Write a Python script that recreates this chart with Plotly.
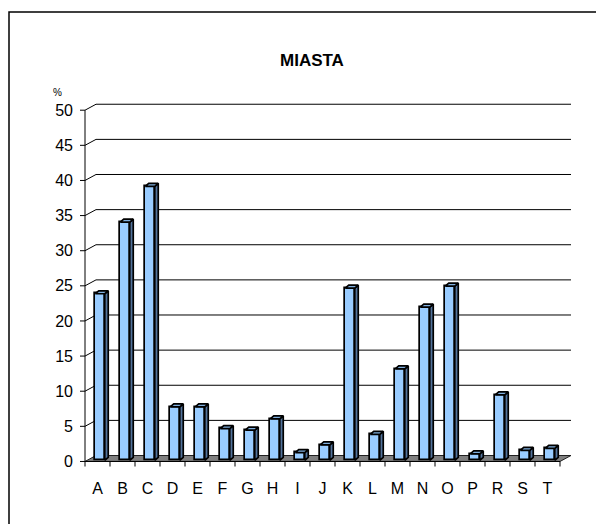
import plotly.graph_objects as go

# ---- data ----
categories = ["A", "B", "C", "D", "E", "F", "G", "H", "I", "J",
              "K", "L", "M", "N", "O", "P", "R", "S", "T"]
values = [23.7, 33.9, 39.0, 7.6, 7.6, 4.5, 4.3, 5.9, 1.1, 2.2,
          24.5, 3.7, 13.0, 21.8, 24.8, 0.9, 9.3, 1.4, 1.7]
y_ticks = [0, 5, 10, 15, 20, 25, 30, 35, 40, 45, 50]
title_text = "MIASTA"
unit_text = "%"

# ---- geometry (page pixels -> figure pixels -> data units) ----
OFF = 8                       # default body margin of the html page
W, H = 604 - OFF, 524 - OFF   # figure size so that it fills the window
PX_PER_CAT = 25.0
PX_PER_UNIT = 7.08
X0_PX = 85.0 - OFF      # pixel of x=-0.5
Y0_PX = 465.0 - OFF     # pixel of y=0 (front plane)
dom_x_px = (75 - OFF, 595 - OFF)
dom_y_px = (100 - OFF, 470 - OFF)   # top, bottom
x_range = [(dom_x_px[0] - X0_PX) / PX_PER_CAT - 0.5, (dom_x_px[1] - X0_PX) / PX_PER_CAT - 0.5]
y_range = [(Y0_PX - dom_y_px[1]) / PX_PER_UNIT, (Y0_PX - dom_y_px[0]) / PX_PER_UNIT]
x_domain = [dom_x_px[0] / W, dom_x_px[1] / W]
y_domain = [1 - dom_y_px[1] / H, 1 - dom_y_px[0] / H]

n = len(categories)
idx = list(range(n))
x_left, x_right = -0.5, n - 0.5
dx, dy = 11.0 / PX_PER_CAT, 6.0 / PX_PER_UNIT          # wall depth
sx, sy = 2.5 / PX_PER_CAT, 1.2 / PX_PER_UNIT           # bar plane shift
bw = 9.5 / PX_PER_CAT                                   # bar width
bdx, bdy = 3.5 / PX_PER_CAT, 3.0 / PX_PER_UNIT         # bar depth
tick_len_y = 5 / PX_PER_CAT
tick_len_x = 7 / PX_PER_UNIT

fig = go.Figure()

# back wall gridlines with diagonal connectors
gx, gy = [], []
for v in y_ticks[1:]:
    gx += [x_left, x_left + dx, x_right + dx, None]
    gy += [v, v + dy, v + dy, None]
fig.add_trace(go.Scatter(x=gx, y=gy, mode="lines", line=dict(color="black", width=1),
                         hoverinfo="skip", showlegend=False))

# floor
fig.add_trace(go.Scatter(x=[x_left, x_right, x_right + dx, x_left + dx, x_left],
                         y=[0, 0, dy, dy, 0], mode="lines", fill="toself",
                         fillcolor="#808080", line=dict(color="#202020", width=1),
                         hoverinfo="skip", showlegend=False))

# front axes: vertical line, y ticks, x line, x ticks
ax_x = [x_left, x_left, None]
ax_y = [0, max(y_ticks), None]
for v in y_ticks:
    ax_x += [x_left - tick_len_y, x_left, None]
    ax_y += [v, v, None]
ax_x += [x_left, x_right, None]
ax_y += [0, 0, None]
for k in range(n + 1):
    ax_x += [x_left + k, x_left + k, None]
    ax_y += [0, -tick_len_x, None]
fig.add_trace(go.Scatter(x=ax_x, y=ax_y, mode="lines", line=dict(color="black", width=1),
                         hoverinfo="skip", showlegend=False))

# bars (front faces)
fig.add_trace(go.Bar(x=idx, y=values, base=sy, width=bw, offset=sx - bw / 2,
                     marker=dict(color="#99CCFF", line=dict(color="black", width=1.7)),
                     xaxis="x2", yaxis="y2", showlegend=False, hoverinfo="skip"))

# bar sides and tops
side_x, side_y, top_x, top_y = [], [], [], []
for i, v in zip(idx, values):
    xl = i + sx - bw / 2
    xr = i + sx + bw / 2
    side_x += [xr, xr + bdx, xr + bdx, xr, xr, None]
    side_y += [sy, sy + bdy, v + sy + bdy, v + sy, sy, None]
    top_x += [xl, xr, xr + bdx, xl + bdx, xl, None]
    top_y += [v + sy, v + sy, v + sy + bdy, v + sy + bdy, v + sy, None]
fig.add_trace(go.Scatter(x=side_x, y=side_y, mode="lines", fill="toself",
                         fillcolor="#52739C", line=dict(color="black", width=1.7),
                         xaxis="x2", yaxis="y2", hoverinfo="skip", showlegend=False))
fig.add_trace(go.Scatter(x=top_x, y=top_y, mode="lines", fill="toself",
                         fillcolor="#7FAEDD", line=dict(color="black", width=1.7),
                         xaxis="x2", yaxis="y2", hoverinfo="skip", showlegend=False))

FAM = "Liberation Sans, Arial, sans-serif"
font_main = dict(family=FAM, size=16, color="black")

fig.update_layout(
    width=W, height=H,
    margin=dict(l=0, r=0, t=0, b=0),
    paper_bgcolor="white", plot_bgcolor="rgba(0,0,0,0)",
    font=font_main,
    xaxis=dict(domain=x_domain, range=x_range, tickmode="array", tickvals=idx,
               ticktext=categories, showgrid=False, zeroline=False, showline=False,
               ticks="", tickfont=font_main, ticklabelstandoff=11),
    yaxis=dict(domain=y_domain, range=y_range, tickmode="array", tickvals=y_ticks,
               showgrid=False, zeroline=False, showline=False, ticks="",
               tickfont=font_main, ticklabelstandoff=1),
    xaxis2=dict(domain=x_domain, range=x_range, overlaying="x", visible=False),
    yaxis2=dict(domain=y_domain, range=y_range, overlaying="y", visible=False),
    shapes=[dict(type="rect", xref="paper", yref="paper",
                 x0=(9 - OFF) / W, x1=1.05, y0=-0.05, y1=1 - (12 - OFF) / H,
                 line=dict(color="black", width=1.5), fillcolor="rgba(0,0,0,0)")],
    annotations=[
        dict(text="<b>" + title_text + "</b>", xref="paper", yref="paper",
             x=(312 - OFF) / W, y=1 - (61 - OFF) / H, xanchor="center", yanchor="middle",
             showarrow=False, font=dict(family=FAM, size=17, color="black")),
        dict(text=unit_text, xref="paper", yref="paper",
             x=(57 - OFF) / W, y=1 - (93 - OFF) / H, xanchor="center", yanchor="middle",
             showarrow=False, font=dict(family=FAM, size=10, color="black")),
    ],
    bargap=0,
)

fig.write_html("out.html")
